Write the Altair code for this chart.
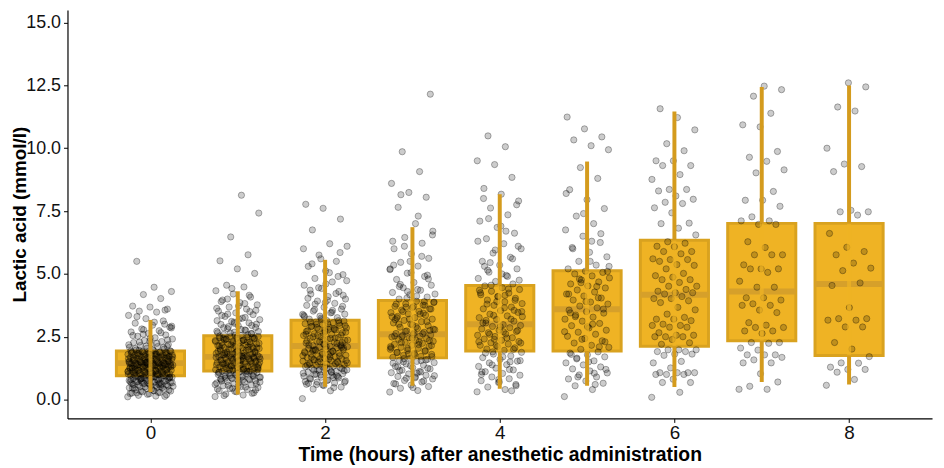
import altair as alt
import pandas as pd

# ---- box statistics ----
times = [0, 1, 2, 3, 4, 5, 6, 7, 8]
lo = [0.30, 0.20, 0.51, 0.55, 0.43, 0.55, 0.50, 0.70, 0.60]
q1 = [0.95, 1.14, 1.34, 1.66, 1.93, 1.93, 2.12, 2.34, 1.75]
med = [1.45, 1.70, 2.13, 2.60, 3.00, 3.59, 4.17, 4.30, 4.60]
q3 = [1.93, 2.54, 3.16, 3.94, 4.54, 5.13, 6.34, 7.01, 7.01]
hi = [3.17, 4.31, 5.56, 6.86, 8.17, 9.47, 11.46, 12.44, 12.50]

g0 = """0.11 0.14 0.17 0.19 0.23 0.26 0.28 0.31 0.34 0.36 0.39 0.41 0.44 0.47 0.49 0.52
0.54 0.57 0.6 0.61 0.64 0.67 0.69 0.71 0.74 0.77 0.79 0.82 0.85 0.87 0.9 0.93
0.96 0.98 1.01 1.02 1.05 1.06 1.08 1.11 1.12 1.14 1.17 1.18 1.2 1.21 1.23 1.26
1.27 1.29 1.3 1.32 1.33 1.35 1.36 1.37 1.38 1.39 1.4 1.41 1.42 1.43 1.44 1.44 1.45
1.46 1.47 1.48 1.5 1.51 1.52 1.54 1.55 1.57 1.58 1.6 1.61 1.62 1.64 1.65 1.67
1.68 1.7 1.71 1.72 1.74 1.76 1.77 1.79 1.8 1.82 1.83 1.85 1.86 1.88 1.89 1.91 1.92
1.95 1.97 2.01 2.04 2.08 2.11 2.15 2.19 2.22 2.27 2.31 2.35 2.41 2.46 2.52 2.57
2.63 2.69 2.74 2.81 2.88 2.96 3.04 3.13 3.22 3.35 3.48 3.52 3.6 3.68 3.72 4.02
4.18 4.3 4.47 5.5
0.13 0.21 0.24 0.29 0.33 0.38 0.42 0.45 0.48 0.5 0.53 0.56 0.58 0.59 0.62 0.63 0.65
0.66 0.68 0.7 0.72 0.73 0.75 0.76 0.78 0.8 0.81 0.83 0.84 0.86 0.88 0.89 0.91 0.92
0.94 0.95 0.97 0.99 1.0 1.03 1.04 1.07 1.09 1.1 1.13 1.15 1.16 1.19 1.22 1.24 1.25
1.28 1.31 1.34 1.35 1.38 1.4 1.43 1.46 1.49 1.53 1.56 1.59 1.63 1.66 1.69 1.73 1.75
1.78 1.81 1.84 1.87 1.9 1.94 1.99 2.03 2.07 2.13 2.18 2.24 2.29 2.38 2.44 2.55 2.66
2.78 2.92 3.08 3.3 3.56
0.66 0.71 0.77 0.83 0.87 0.93 0.98 1.02 1.06 1.11 1.14 1.17 1.2 1.23 1.26 1.29 1.32
1.36 1.39 1.42 1.45 1.48 1.52 1.55 1.58 1.61 1.64 1.68 1.71 1.74 1.77 1.8 1.83 1.87
1.9 1.93 0.6 0.74 0.9 1.05 1.18 1.33 1.47 1.62 1.79 1.96 2.12 2.33 0.46 0.52 2.6
2.85 0.35 0.27 3.0 1.5 1.25 1.0 0.82 1.7"""
g1 = """0.12 0.18 0.22 0.27 0.31 0.35 0.4 0.44 0.48 0.51 0.55 0.59 0.62 0.66 0.69 0.72
0.75 0.78 0.8 0.83 0.86 0.88 0.91 0.93 0.96 0.98 1.0 1.03 1.05 1.08 1.1 1.13
1.15 1.17 1.19 1.22 1.24 1.26 1.28 1.3 1.33 1.35 1.37 1.39 1.41 1.43 1.45 1.47
1.49 1.51 1.53 1.55 1.57 1.59 1.61 1.62 1.64 1.66 1.68 1.69 1.71 1.72 1.74 1.75 1.76
1.78 1.8 1.82 1.84 1.86 1.89 1.91 1.93 1.96 1.98 2.0 2.03 2.05 2.07 2.1 2.12
2.15 2.17 2.2 2.22 2.25 2.27 2.3 2.32 2.35 2.37 2.4 2.42 2.44 2.46 2.48 2.5 2.51
2.55 2.59 2.63 2.68 2.72 2.77 2.82 2.87 2.93 2.99 3.05 3.11 3.18 3.24 3.31 3.38
3.45 3.52 3.6 3.68 3.77 3.86 3.96 4.08 4.2 4.33 4.48 4.55 5.02 5.2 5.52 5.76
6.47 7.42 8.13
0.16 0.25 0.33 0.42 0.5 0.57 0.63 0.68 0.74 0.79 0.84 0.89 0.94 0.99 1.02 1.06 1.09
1.12 1.16 1.2 1.23 1.27 1.31 1.34 1.38 1.42 1.46 1.5 1.54 1.58 1.63 1.67 1.7 1.73
1.79 1.83 1.87 1.92 1.97 2.01 2.06 2.11 2.16 2.21 2.26 2.31 2.36 2.41 2.45 2.49 2.53
2.58 2.65 2.71 2.79 2.86 2.95 3.03 3.14 3.27 3.4 3.55 3.72 3.9 4.15 4.42
0.7 0.77 0.85 0.92 1.0 1.07 1.14 1.21 1.29 1.36 1.44 1.52 1.6 1.68 1.75 1.81 1.88
1.95 2.02 2.09 2.18 2.24 2.33 2.39 2.47 2.56 2.66 2.75 2.9 3.0 3.2 3.35 3.5 0.45
0.6 1.18 1.4 1.65 1.9 2.13 2.29 0.96 1.25 1.56 2.44 2.62 3.08 3.63 3.82 4.0 0.38
0.53 0.82 1.11 1.33 1.48 1.72 1.85 2.04 2.2"""
g2 = """0.04 0.35 0.42 0.5 0.56 0.61 0.66 0.7 0.74 0.78 0.82 0.86 0.89 0.93 0.96 1.0
1.03 1.06 1.09 1.12 1.15 1.18 1.21 1.24 1.27 1.29 1.31 1.33
1.36 1.39 1.42 1.45 1.48 1.5 1.53 1.56 1.59 1.62 1.64 1.67 1.7 1.73 1.76 1.79
1.82 1.85 1.88 1.9 1.93 1.96 1.98 2.01 2.04 2.06 2.08 2.1 2.12
2.15 2.18 2.21 2.25 2.29 2.32 2.36 2.4 2.44 2.47 2.51 2.55 2.59 2.62 2.66 2.7
2.74 2.77 2.81 2.85 2.88 2.92 2.95 2.99 3.02 3.06 3.09 3.12 3.15
3.2 3.26 3.32 3.39 3.45 3.52 3.6 3.67 3.75 3.83 3.92 4.0 4.1 4.2 4.3 4.42
4.55 4.68 4.82 4.97 5.12 5.3 5.5 5.75 6.1 6.2 6.75 7.18 7.61 7.77
0.48 0.6 0.69 0.76 0.84 0.91 0.98 1.05 1.11 1.17 1.23 1.3 1.37 1.43 1.49 1.55 1.61
1.68 1.74 1.8 1.86 1.92 1.99 2.05 2.11 2.17 2.23 2.3 2.37 2.43 2.5 2.57 2.64 2.71
2.79 2.86 2.94 3.01 3.08 3.14 3.24 3.35 3.47 3.58 3.71 3.86 4.03 4.22 4.45 4.73
5.05 5.4 5.85
0.58 0.72 0.88 1.01 1.14 1.26 1.4 1.52 1.63 1.75 1.87 1.97 2.09 2.2 2.33 2.45 2.56
2.68 2.8 2.9 3.04 3.18 3.3 3.55 3.8 4.15 4.6 0.65 0.95 1.2 1.46 1.7 1.94 2.14 2.38
2.6 2.83 3.0 3.4 3.95 4.35 4.9 5.6 6.0 1.08 1.58 2.27 2.75"""
g3 = """0.3 0.36 0.45 0.52 0.58 0.64 0.7 0.76 0.82 0.87 0.92 0.97 1.02 1.07 1.12 1.17
1.22 1.27 1.32 1.37 1.42 1.47 1.52 1.56 1.6 1.64
1.68 1.72 1.76 1.8 1.84 1.88 1.92 1.96 2.0 2.04 2.08 2.12 2.16 2.2 2.24 2.28
2.32 2.36 2.4 2.43 2.46 2.49 2.52 2.55 2.57 2.59
2.63 2.68 2.73 2.78 2.83 2.88 2.94 3.0 3.05 3.1 3.15 3.2 3.26 3.31 3.36 3.41
3.46 3.51 3.56 3.61 3.66 3.71 3.76 3.81 3.86 3.91
4.0 4.08 4.17 4.26 4.35 4.45 4.55 4.66 4.78 4.9 5.03 5.17 5.31 5.46 5.62 5.8
6.0 6.22 6.45 6.7 7.0 7.65 8.05 8.24 8.6 9.07 9.86 12.15
0.48 0.62 0.74 0.85 0.95 1.05 1.15 1.25 1.35 1.45 1.55 1.63 1.71 1.79 1.87 1.95 2.03
2.11 2.19 2.27 2.35 2.44 2.53 2.62 2.71 2.8 2.9 3.0 3.1 3.2 3.3 3.4 3.5 3.6 3.7 3.8
3.9 4.04 4.2 4.38 4.58 4.8 5.05 5.35 5.7 6.1 6.55
0.9 1.3 1.58 1.82 2.06 2.3 2.5 2.75 2.97 3.18 3.44 3.68 3.88 4.12 4.5 4.95 5.5 6.3
1.1 1.5 2.15 2.65 3.25 3.75 4.3 5.2 7.3 8.15"""
g4 = """0.31 0.4 0.5 0.6 0.68 0.75 0.83 0.9 0.97 1.04 1.11 1.18 1.25 1.32 1.39 1.46
1.53 1.6 1.67 1.74 1.81 1.88
1.96 2.01 2.06 2.11 2.16 2.21 2.26 2.31 2.36 2.41 2.46 2.51 2.56 2.61 2.66 2.71
2.76 2.81 2.86 2.91 2.95 2.98
3.05 3.12 3.19 3.26 3.33 3.4 3.47 3.54 3.61 3.68 3.75 3.82 3.89 3.96 4.03 4.1
4.17 4.24 4.31 4.38 4.45 4.52
4.6 4.7 4.82 4.94 5.07 5.2 5.35 5.5 5.66 5.83 6.0 6.2 6.4 6.62 6.85 7.1
7.35 7.62 7.9 8.17 8.4 8.84 9.35 9.5 10.06 10.49
0.55 0.8 1.0 1.2 1.38 1.55 1.7 1.85 2.0 2.15 2.3 2.45 2.6 2.75 2.9 3.05 3.2 3.35
3.5 3.65 3.8 3.95 4.1 4.25 4.4 4.55 4.75 5.0 5.3 5.6 5.95 6.3 6.7 7.2 7.75
0.7 1.1 1.5 1.9 2.25 2.7 3.15 3.55 3.9 4.35 4.9 5.45 6.1 6.9 8.0 0.35 2.4 3.3 4.15 5.15"""
g5 = """0.12 0.4 0.55 0.65 0.74 0.82 0.9 0.98 1.06 1.14 1.22 1.3 1.38 1.46 1.54 1.62
1.7 1.78 1.85 1.9
2.0 2.08 2.16 2.25 2.34 2.43 2.52 2.6 2.68 2.76 2.85 2.94 3.03 3.12 3.2 3.28
3.36 3.44 3.5 3.56
3.65 3.72 3.8 3.88 3.96 4.04 4.12 4.2 4.28 4.36 4.44 4.52 4.6 4.68 4.76 4.84
4.92 5.0 5.06 5.11
5.2 5.35 5.5 5.68 5.86 6.05 6.25 6.5 6.75 7.0 7.3 7.6 7.95 8.35 8.8 9.23
9.94 10.1 10.33 10.45 10.77 11.24
0.6 0.9 1.2 1.5 1.8 2.1 2.4 2.7 3.0 3.3 3.6 3.9 4.2 4.5 4.8 5.1 5.5 6.0 6.6 7.4 8.2
1.05 1.65 2.3 2.9 3.45 4.05 4.65 5.3 6.3"""
g6 = """0.09 0.29 0.68 0.68 0.81 1.0 1.0 1.0 1.07 1.07 1.07 1.07 1.26 1.46 1.52 1.76
1.81 1.81 1.91 1.91 1.98 1.98 1.98 2.2 2.26 2.39 2.5 2.5 2.5 2.56 2.56 2.66
2.88 2.88 2.95 2.95 3.0 3.14 3.2 3.2 3.27 3.4 3.57 3.67 3.86 3.93 4.02 4.02
4.1 4.2 4.25 4.25 4.31 4.38 4.51 4.51 4.66 4.77 4.77 4.87 4.93 5.02 5.2 5.34
5.37 5.5 5.57 5.57 5.6 5.8 5.89 5.89 6.08 6.1 6.22 6.28 6.55 6.82 7.0 7.02
7.43 7.63 7.8 7.85 7.97 8.1 8.3 8.36 8.36 8.76 8.95 9.31 9.31 9.5 9.5 9.9
10.18 10.73 11.22 11.57"""
g7 = """0.41 0.41 0.53 0.7 1.03 1.46 1.46 1.58 1.68 1.78 1.78 1.78 1.97 2.05 2.24
2.27 2.27 2.63 2.73 2.73 2.87 2.87 2.96 3.06 3.46 3.56 3.75 3.75 3.81 3.96
4.05 4.05 4.47 4.47 4.71 5.06 5.2 5.2 5.2 5.36 5.76 5.76 5.76 6.05 6.28 6.97
6.97 7.11 7.11 7.27 7.69 7.93 7.93 8.28 9.02 9.14 9.48 9.64 9.87 10.85 10.93
11.39 12.07 12.33 12.47"""
g8 = """0.57 0.8 1.09 1.2 1.2 1.29 1.45 1.46 1.71 2.01 2.27 2.89 2.89 3.16 3.16
3.22 3.22 3.66 4.54 4.64 5.13 5.23 5.43 5.76 5.89 6.06 6.61 7.34 7.47 7.47
7.53 9.07 9.27 9.37 10.0 11.48 11.64 12.44 12.6"""

groups = [g0, g1, g2, g3, g4, g5, g6, g7, g8]

pts = pd.DataFrame(
    [{"time": t, "value": float(v), "idx": i}
     for t, g in zip(times, groups) for i, v in enumerate(g.split())]
)
box = pd.DataFrame({"time": times, "lo": lo, "q1": q1, "med": med, "q3": q3, "hi": hi})

GOLD = "#EFB324"
GOLD_DARK = "#D9A21F"
WHISK = "#D49B1D"

xscale = alt.Scale(domain=[-0.95, 8.95], nice=False, zero=False)
yscale = alt.Scale(domain=[-0.75, 15.5], nice=False, zero=False)

xaxis = alt.Axis(
    values=[0, 2, 4, 6, 8], format="d", title="Time (hours) after anesthetic administration",
    grid=False, domainColor="black", domainWidth=1.2, tickColor="black", tickSize=4,
    labelFontSize=19, labelColor="#111111", labelPadding=1,
    titleFontSize=19.5, titleFontWeight="bold", titleColor="black", titlePadding=3,
)
yaxis = alt.Axis(
    values=[0, 2.5, 5, 7.5, 10, 12.5, 15], format=".1f", title="Lactic acid (mmol/l)",
    grid=False, domainColor="black", domainWidth=1.2, tickColor="black", tickSize=4,
    labelFontSize=18, labelColor="#111111", labelPadding=3,
    titleFontSize=19, titleFontWeight="bold", titleColor="black",
    titleX=-38, titleY=206,
)

base_box = alt.Chart(box).transform_calculate(
    xl="datum.time - 0.39", xr="datum.time + 0.39"
)

rects = base_box.mark_rect(fill=GOLD, stroke=GOLD_DARK, strokeWidth=3).encode(
    x=alt.X("xl:Q", scale=xscale, axis=xaxis),
    x2="xr:Q",
    y=alt.Y("q1:Q", scale=yscale, axis=yaxis),
    y2="q3:Q",
)

medians = base_box.mark_rule(color="#D6A02A", strokeWidth=6).encode(
    x=alt.X("xl:Q", scale=xscale), x2="xr:Q", y=alt.Y("med:Q", scale=yscale)
)

points = alt.Chart(pts).transform_calculate(
    xj="datum.time + ((datum.idx * 0.6180339887) % 1 - 0.5) * 0.52"
).mark_circle(
    size=40, fill="black", fillOpacity=0.2, stroke="black", strokeOpacity=0.3, strokeWidth=1
).encode(
    x=alt.X("xj:Q", scale=xscale), y=alt.Y("value:Q", scale=yscale)
)

inner = alt.Chart(box).mark_rule(color=GOLD, opacity=0.7, strokeWidth=4).encode(
    x=alt.X("time:Q", scale=xscale), y=alt.Y("q1:Q", scale=yscale), y2="q3:Q"
)
upper = alt.Chart(box).mark_rule(color=WHISK, strokeWidth=4).encode(
    x=alt.X("time:Q", scale=xscale), y=alt.Y("q3:Q", scale=yscale), y2="hi:Q"
)
lower = alt.Chart(box).mark_rule(color=WHISK, strokeWidth=4).encode(
    x=alt.X("time:Q", scale=xscale), y=alt.Y("lo:Q", scale=yscale), y2="q1:Q"
)

chart = alt.layer(rects, medians, points, inner, upper, lower).properties(
    width=872, height=412,
    autosize=alt.AutoSizeParams(type="none"),
    padding={"left": 60, "top": 0, "right": 4, "bottom": 48},
).configure(font="Liberation Sans").configure_view(stroke=None, strokeWidth=0)

chart.save("out.html", embed_options={"renderer": "svg", "actions": False})
